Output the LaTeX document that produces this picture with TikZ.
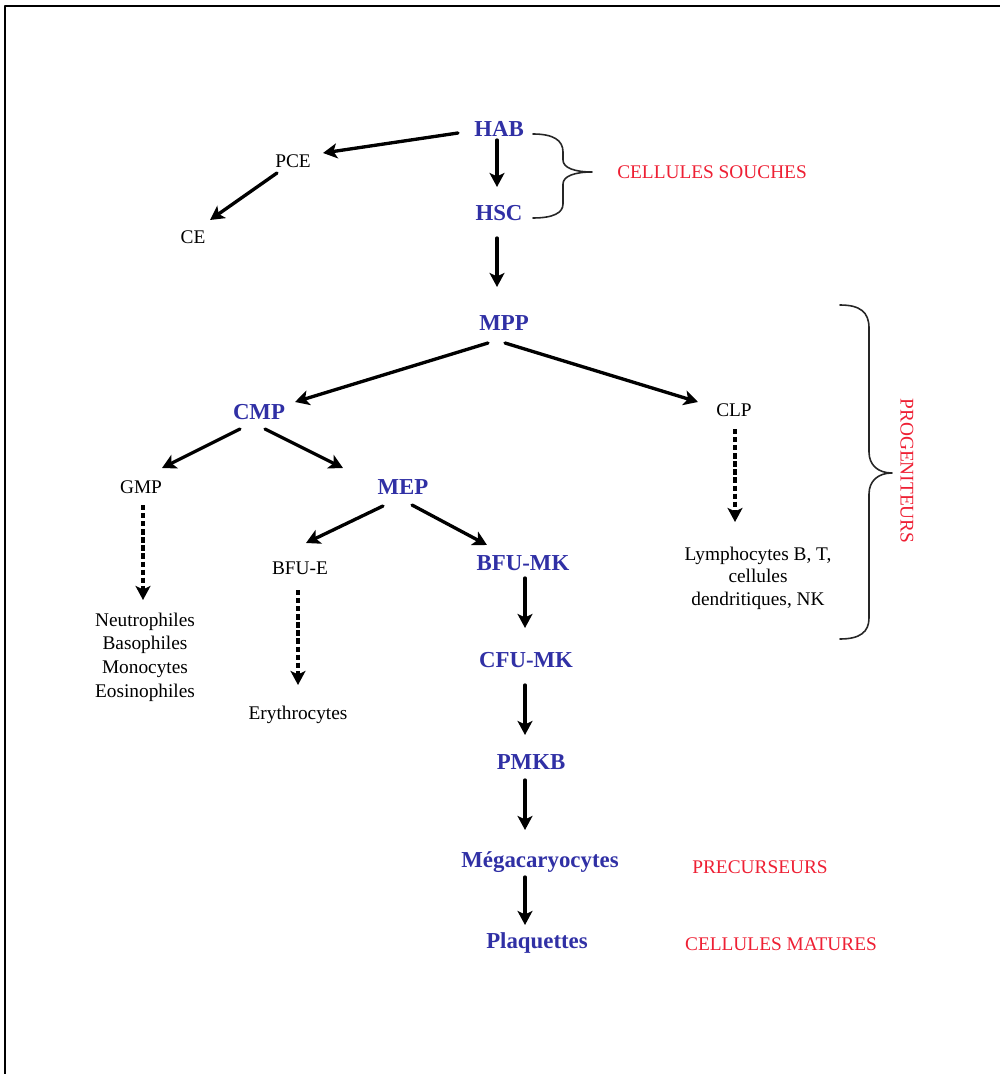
\documentclass[tikz,border=0pt]{standalone}
\usepackage{fontspec}
\setmainfont{Liberation Serif}
\usetikzlibrary{arrows.meta}
\definecolor{cellblue}{RGB}{48,48,165}
\definecolor{stagered}{RGB}{238,32,52}
\begin{document}
\begin{tikzpicture}[x=0.02cm,y=-0.02cm,line cap=round,line join=round,>={Stealth[length=8pt,width=8.5pt,inset=2pt]},
	stem/.style={font=\fontsize{13}{15}\selectfont\bfseries,text=cellblue},
	cell/.style={font=\fontsize{11}{13.5}\selectfont,align=center},
	stage/.style={font=\fontsize{11}{13}\selectfont,text=stagered},
	arr/.style={->,line width=1.9pt},
	darr/.style={->,line width=1.9pt,line cap=butt,dash pattern=on 3pt off 1.6pt},
	brace/.style={line width=0.9pt,draw=black!85}]
		\useasboundingbox (0,0) rectangle (1000,1074);
		\draw[line width=1.1pt,line cap=butt] (5,1074)--(5,6)--(1000,6);
		% cellules souches
		\node[stem] (hab) at (499,129) {HAB};
		\node[stem] (hsc) at (499,213) {HSC};
		\node[cell] (pce) at (293,161) {PCE};
		\node[cell] (ce) at (193,237) {CE};
		\node[stage] (souches) at (712,172) {CELLULES SOUCHES};
		% progeniteurs
		\node[stem] (mpp) at (504,323) {MPP};
		\node[stem] (cmp) at (259,412) {CMP};
		\node[cell] (clp) at (734,410) {CLP};
		\node[cell] (gmp) at (141,487) {GMP};
		\node[stem] (mep) at (403,487) {MEP};
		\node[cell] (bfue) at (300,568) {BFU-E};
		\node[stem] (bfumk) at (523,563) {BFU-MK};
		\node[stem] (cfumk) at (526,660) {CFU-MK};
		\node[cell] (neutro) at (145,657) {Neutrophiles\\Basophiles\\Monocytes\\Eosinophiles};
		\node[cell] (erythro) at (298,715) {Erythrocytes};
		\node[cell,font=\fontsize{11}{12.8}\selectfont] (lympho) at (758,578) {Lymphocytes B, T,\\cellules\\dendritiques, NK};
		\node[stage,rotate=-90] (progen) at (907,471) {PROGENITEURS};
		% precurseurs et cellules matures
		\node[stem] (pmkb) at (531,762) {PMKB};
		\node[stem] (mega) at (540,862) {Mégacaryocytes};
		\node[stem] (plaq) at (537,943) {Plaquettes};
		\node[stage] (precurs) at (760,867) {PRECURSEURS};
		\node[stage] (matures) at (781,944) {CELLULES MATURES};
		% fleches
		\draw[arr] ([shift={(-41,4)}]hab.center)--([shift={(30,-8)}]pce.center);
		\draw[arr] ([shift={(-2,11)}]hab.center)--([shift={(-2,-26)}]hsc.center);
		\draw[arr] ([shift={(-16,12)}]pce.center)--([shift={(17,-17)}]ce.center);
		\draw[arr] ([shift={(-2,25)}]hsc.center)--([shift={(-7,-36)}]mpp.center);
		\draw[arr] ([shift={(-16,20)}]mpp.center)--([shift={(36,-10)}]cmp.center);
		\draw[arr] ([shift={(1,20)}]mpp.center)--([shift={(-36,-8)}]clp.center);
		\draw[arr] ([shift={(-19,17)}]cmp.center)--([shift={(21,-19)}]gmp.center);
		\draw[arr] ([shift={(6,17)}]cmp.center)--([shift={(-60,-19)}]mep.center);
		\draw[arr] ([shift={(-20,19)}]mep.center)--([shift={(6,-25)}]bfue.center);
		\draw[arr] ([shift={(9,18)}]mep.center)--([shift={(-36,-18)}]bfumk.center);
		\draw[arr] ([shift={(2,15)}]bfumk.center)--([shift={(-1,-32)}]cfumk.center);
		\draw[arr] ([shift={(-1,25)}]cfumk.center)--([shift={(-6,-27)}]pmkb.center);
		\draw[arr] ([shift={(-6,18)}]pmkb.center)--([shift={(-15,-32)}]mega.center);
		\draw[arr] ([shift={(-15,15)}]mega.center)--([shift={(-12,-18)}]plaq.center);
		\draw[darr] ([shift={(2,18)}]gmp.center)--([shift={(-2,-57)}]neutro.center);
		\draw[darr] ([shift={(-2,22)}]bfue.center)--([shift={(0,-30)}]erythro.center);
		\draw[darr] ([shift={(1,19)}]clp.center)--([shift={(-23,-56)}]lympho.center);
		% accolades
		\draw[brace] (533,134) .. controls (553,134) and (563,140) .. (563,152)--(563,160)
		.. controls (563,168) and (575,172) .. (592,172) .. controls (575,172) and (563,176) .. (563,184)
		--(563,204) .. controls (563,213) and (553,218) .. (533,218);
		\draw[brace] (840,305) .. controls (860,305) and (869,312) .. (869,328)--(869,452)
		.. controls (869,465) and (878,473) .. (892,473) .. controls (878,473) and (869,481) .. (869,494)
		--(869,618) .. controls (869,632) and (860,639) .. (840,639);
	\end{tikzpicture}
\end{document}
